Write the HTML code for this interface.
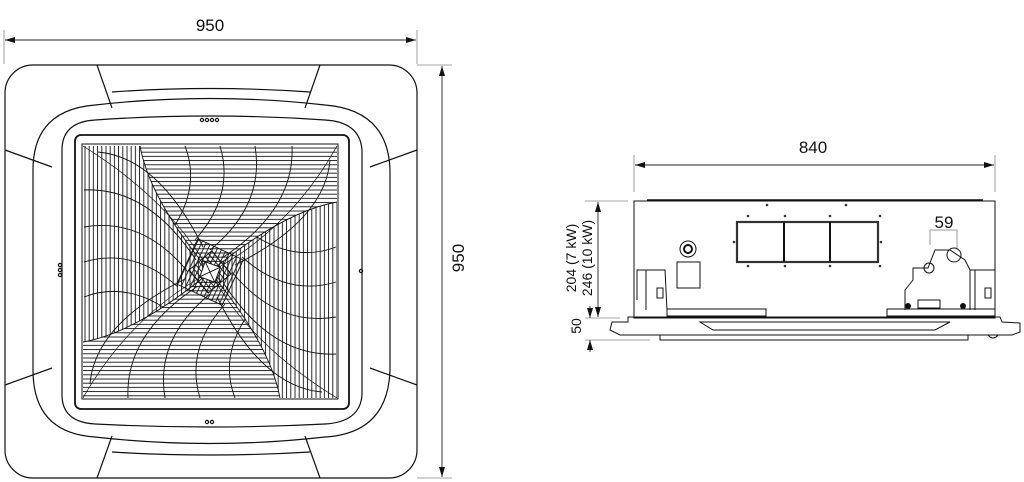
<!DOCTYPE html>
<html><head><meta charset="utf-8"><style>
html,body{margin:0;padding:0;background:#fff;width:1024px;height:482px;overflow:hidden}
svg{display:block}
text{font-family:"Liberation Sans",sans-serif;fill:#111}
</style></head><body>
<svg width="1024" height="482" viewBox="0 0 1024 482" xmlns="http://www.w3.org/2000/svg">
<defs>
<marker id="a" markerWidth="10" markerHeight="6" refX="10" refY="3" orient="auto-start-reverse" markerUnits="userSpaceOnUse"><path d="M0,0 L10,3 L0,6z" fill="#111"/></marker>
<clipPath id="gc"><rect x="83" y="146" width="254" height="252"/></clipPath>
<pattern id="pv" width="4.2" height="10" patternUnits="userSpaceOnUse"><line x1="1" y1="0" x2="1" y2="10" stroke="#111" stroke-width="0.9"/></pattern>
<pattern id="ph" width="10" height="4.2" patternUnits="userSpaceOnUse"><line x1="0" y1="1" x2="10" y2="1" stroke="#111" stroke-width="0.9"/></pattern>
<g id="sp">
<path d="M175,225 Q200,185 185,146"/>
<path d="M195,240 Q235,195 220,146"/>
<path d="M210,250 Q265,205 255,146"/>
<path d="M222,258 Q295,210 292,146"/>
<path d="M235,265 Q325,220 330,160"/>
</g>
</defs>
<g stroke="#888" stroke-width="0.8" fill="none">
<line x1="4" y1="30" x2="4" y2="64"/><line x1="417" y1="30" x2="417" y2="64"/>
<line x1="417" y1="65" x2="452" y2="65"/><line x1="417" y1="478" x2="452" y2="478"/>
<line x1="634" y1="155" x2="634" y2="192"/><line x1="995" y1="155" x2="995" y2="192"/>
<line x1="585" y1="201" x2="628" y2="201"/><line x1="585" y1="318" x2="620" y2="318"/><line x1="585" y1="340" x2="650" y2="340"/>
</g>
<g stroke="#222" stroke-width="0.9" fill="none">
<line x1="5" y1="40" x2="416" y2="40" marker-start="url(#a)" marker-end="url(#a)"/>
<line x1="442" y1="66" x2="442" y2="477" marker-start="url(#a)" marker-end="url(#a)"/>
<line x1="635" y1="165" x2="994" y2="165" marker-start="url(#a)" marker-end="url(#a)"/>
<line x1="598" y1="202" x2="598" y2="317" marker-start="url(#a)" marker-end="url(#a)"/>
<line x1="590" y1="306" x2="590" y2="318" marker-end="url(#a)"/>
<line x1="590" y1="352" x2="590" y2="340" marker-end="url(#a)"/>
</g>
<text x="210" y="31" font-size="17" text-anchor="middle">950</text>
<text x="0" y="0" font-size="17" text-anchor="middle" transform="translate(464,258) rotate(-90)">950</text>
<text x="813" y="153" font-size="17" text-anchor="middle">840</text>
<text x="0" y="0" font-size="14" text-anchor="middle" transform="translate(576,258) rotate(-90)">204 (7 kW)</text>
<text x="0" y="0" font-size="14" text-anchor="middle" transform="translate(592,258) rotate(-90)">246 (10 kW)</text>
<text x="0" y="0" font-size="14" text-anchor="middle" transform="translate(581,326) rotate(-90)">50</text>
<text x="944" y="228" font-size="17" text-anchor="middle">59</text>

<!-- grille -->
<g clip-path="url(#gc)">
<path d="M210,272 Q150,200 140,146 L83,146 L83,342 Q138,332 210,272Z" fill="url(#pv)"/>
<path d="M210,272 Q150,200 140,146 L337,146 L337,202 Q282,212 210,272Z" fill="url(#ph)"/>
<path d="M210,272 Q282,212 337,202 L337,398 L280,398 Q270,344 210,272Z" fill="url(#pv)"/>
<path d="M210,272 Q270,344 280,398 L83,398 L83,342 Q138,332 210,272Z" fill="url(#ph)"/>
<g stroke="#111" stroke-width="0.9" fill="none">
<path d="M210,272 Q150,200 140,146 M210,272 Q282,212 337,202 M210,272 Q270,344 280,398 M210,272 Q138,332 83,342"/>
<path d="M83,146 Q170,200 210,272 M337,146 Q290,230 210,272 M337,398 Q250,345 210,272 M83,398 Q130,315 210,272" stroke-width="0.7"/>
<use href="#sp"/>
<use href="#sp" transform="rotate(90 210 272)"/>
<use href="#sp" transform="rotate(180 210 272)"/>
<use href="#sp" transform="rotate(270 210 272)"/>
<rect x="185" y="247" width="50" height="50" transform="rotate(25 210 272)" fill="url(#pv)"/>
<rect x="195" y="257" width="30" height="30" transform="rotate(50 210 272)" fill="url(#ph)"/>
<rect x="202" y="264" width="16" height="16" transform="rotate(20 210 272)" fill="#fff"/>
<path d="M202,264 L218,280 M218,264 L202,280" transform="rotate(20 210 272)"/>
</g>
</g>

<!-- left view -->
<g stroke="#111" stroke-width="1.2" fill="none">
<rect x="5" y="65" width="412" height="413" rx="28"/>
<path d="M33,170 Q33,110 95,105 Q210,92 325,105 Q388,110 390,170 L390,370 Q388,433 325,437 Q210,450 95,437 Q33,433 33,370Z"/>
<path d="M62,150 Q62,122 95,120 Q210,112 325,120 Q360,122 362,150 L362,395 Q360,422 325,424 Q210,430 95,424 Q62,422 62,395Z"/>
<rect x="75" y="135" width="274" height="274" rx="6" stroke-width="1.8"/>
<rect x="82" y="144" width="256" height="255" stroke-width="1"/>
<path d="M97,65 L112,108 M320,65 L305,108 M97,478 L112,436 M320,478 L305,436"/>
<path d="M5,150 L52,167 M5,385 L52,368 M417,150 L370,167 M417,385 L370,368"/>
<path d="M112,92 Q210,85 310,92 M112,452 Q210,458 310,452"/>
<circle cx="202" cy="120" r="1.6"/><circle cx="207" cy="120" r="1.6"/><circle cx="212" cy="120" r="1.6"/><circle cx="217" cy="120" r="1.6"/>
<circle cx="207" cy="422" r="1.6"/><circle cx="212" cy="422" r="1.6"/>
<circle cx="60" cy="265" r="1.6"/><circle cx="60" cy="270" r="1.6"/><circle cx="60" cy="275" r="1.6"/>
<circle cx="361" cy="271" r="1.6"/>
</g>

<!-- right view -->
<g stroke="#111" stroke-width="1" fill="none">
<rect x="634" y="201" width="361" height="117"/>
<line x1="647" y1="200" x2="983" y2="200" stroke-width="1.6"/>
<rect x="737" y="222" width="141" height="40" stroke-width="2.2" stroke="#333"/>
<line x1="784" y1="222" x2="784" y2="262" stroke-width="2"/><line x1="830" y1="222" x2="830" y2="262" stroke-width="2"/>
<circle cx="688" cy="249" r="8"/><circle cx="688" cy="249" r="4" stroke-width="2"/>
<rect x="677" y="262" width="23" height="26"/>
<path d="M637,300 L637,270 L665,270 L667,310 M646,270 L646,310 M657,288 h6 v10 h-6z"/>
<path d="M970,270 L995,270 M975,270 L975,310 M985,288 h6 v10 h-6z"/>
<path d="M905,310 L905,290 L913,280 L913,268 L928,268 L935,250 L950,250 L965,260 L970,270 L970,310"/>
<circle cx="929" cy="268" r="5"/><circle cx="954" cy="255" r="7"/>
<path d="M930,245 L930,230 L957,230 L957,248" stroke="#999"/>
<rect x="918" y="300" width="22" height="8"/>
<circle cx="908" cy="306" r="2.5" fill="#111"/><circle cx="963" cy="306" r="2.5" fill="#111"/>
<rect x="667" y="309" width="99" height="7"/><rect x="887" y="309" width="108" height="7"/>
<path d="M628,317 L1000,317 L1002,322 L1020,323 L1020,332 L1012,335 L620,335 L610,330 L612,322 L628,322Z"/>
<path d="M700,322 L950,322 L935,330 L713,330Z"/>
<rect x="660" y="335" width="308" height="5"/>
<path d="M988,335 q5,6 10,0"/>
</g>
<g fill="#333">
<circle cx="767" cy="205" r="1.3"/><circle cx="846" cy="205" r="1.3"/>
<circle cx="748" cy="216" r="1.3"/><circle cx="785" cy="216" r="1.3"/><circle cx="830" cy="216" r="1.3"/><circle cx="880" cy="216" r="1.3"/>
<circle cx="748" cy="266" r="1.3"/><circle cx="785" cy="266" r="1.3"/><circle cx="830" cy="266" r="1.3"/><circle cx="880" cy="266" r="1.3"/>
<circle cx="734" cy="242" r="1.3"/><circle cx="881" cy="242" r="1.3"/>
</g>
</svg>
</body></html>
